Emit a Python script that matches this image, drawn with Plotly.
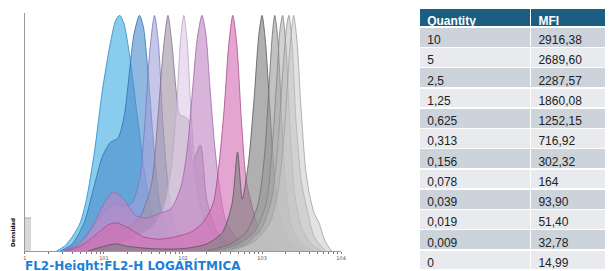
import numpy as np
import plotly.graph_objects as go

# ---------------- data ----------------
# Table
quantity = ["10", "5", "2,5", "1,25", "0,625", "0,313", "0,156", "0,078",
            "0,039", "0,019", "0,009", "0"]
mfi = ["2916,38", "2689,60", "2287,57", "1860,08", "1252,15", "716,92",
       "302,32", "164", "93,90", "51,40", "32,78", "14,99"]

# Histogram outlines: position in log10 decades of FL2-H, density (% of peak)
h0_dec = [0.40, 0.50, 0.60, 0.70, 0.78, 0.88, 0.98, 1.08, 1.15, 1.20, 1.25, 1.33, 1.42, 1.52, 1.62, 1.75, 1.95, 2.10]
h0_den = [0, 2, 6, 12, 22, 42, 68, 88, 98, 100, 97, 82, 58, 32, 14, 5, 1, 0]

h1_dec = [0.45, 0.60, 0.75, 0.88, 0.98, 1.08, 1.18, 1.26, 1.32, 1.38, 1.45, 1.50, 1.56, 1.63, 1.70, 1.80, 1.95, 2.10]
h1_den = [0, 3, 12, 28, 40, 46, 48, 58, 75, 92, 100, 95, 75, 45, 22, 8, 2, 0]

h2_dec = [0.50, 0.70, 0.90, 1.05, 1.15, 1.25, 1.35, 1.45, 1.52, 1.58, 1.64, 1.69, 1.75, 1.82, 1.90, 2.00, 2.15]
h2_den = [0, 4, 12, 18, 20, 19, 20, 30, 55, 85, 100, 88, 52, 25, 10, 4, 0]

h3_dec = [0.60, 0.80, 1.00, 1.15, 1.30, 1.45, 1.60, 1.68, 1.75, 1.81, 1.86, 1.92, 1.96, 2.06, 2.12, 2.22, 2.30, 2.42, 2.60, 2.80]
h3_den = [0, 3, 8, 10, 10, 14, 28, 55, 85, 100, 88, 66, 58, 56, 38, 45, 22, 9, 2, 0]

h4_dec = [1.00, 1.20, 1.40, 1.60, 1.75, 1.85, 1.92, 1.97, 2.01, 2.05, 2.10, 2.16, 2.25, 2.40, 2.60, 2.80]
h4_den = [0, 3, 6, 10, 18, 35, 62, 90, 100, 90, 60, 32, 15, 6, 2, 0]

h5_dec = [0.50, 0.70, 0.85, 1.00, 1.12, 1.25, 1.40, 1.55, 1.70, 1.85, 1.98, 2.06, 2.12, 2.18, 2.24, 2.29, 2.34, 2.40, 2.47, 2.55, 2.70, 2.90, 3.00]
h5_den = [0, 3, 10, 20, 25, 22, 15, 14, 16, 18, 28, 45, 68, 90, 100, 92, 70, 45, 25, 12, 5, 1, 0]

h6_dec = [0.50, 0.70, 0.90, 1.05, 1.15, 1.30, 1.50, 1.70, 1.90, 2.10, 2.25, 2.38, 2.45, 2.52, 2.58, 2.63, 2.68, 2.74, 2.80, 2.88, 2.95, 3.05, 3.20]
h6_den = [0, 2, 7, 11, 12, 10, 6, 5, 6, 8, 12, 20, 35, 60, 88, 100, 88, 55, 30, 18, 10, 4, 0]

h7_dec = [0.80, 1.00, 1.15, 1.30, 1.60, 2.00, 2.30, 2.50, 2.62, 2.69, 2.75, 2.83, 2.90, 2.96, 3.00, 3.04, 3.10, 3.16, 3.24, 3.35, 3.50]
h7_den = [0, 2, 3, 2, 1, 1, 3, 8, 20, 42, 22, 38, 65, 92, 100, 90, 60, 30, 12, 4, 0]

h8_dec = [2.30, 2.60, 2.80, 2.95, 3.03, 3.08, 3.13, 3.16, 3.20, 3.25, 3.30, 3.38, 3.50, 3.65]
h8_den = [0, 3, 8, 20, 40, 65, 92, 100, 90, 55, 28, 10, 3, 0]

h9_dec = [2.40, 2.70, 2.90, 3.05, 3.13, 3.19, 3.23, 3.26, 3.30, 3.35, 3.41, 3.50, 3.62, 3.75]
h9_den = [0, 3, 8, 20, 45, 75, 95, 100, 88, 55, 25, 10, 3, 0]

h10_dec = [2.50, 2.80, 3.00, 3.12, 3.20, 3.26, 3.31, 3.34, 3.38, 3.43, 3.50, 3.58, 3.66, 3.80]
h10_den = [0, 3, 10, 22, 45, 75, 95, 100, 88, 55, 29, 16, 6, 0]

h11_dec = [2.60, 2.90, 3.10, 3.20, 3.28, 3.34, 3.38, 3.40, 3.44, 3.49, 3.55, 3.60, 3.66, 3.72, 3.80, 3.88]
h11_den = [0, 4, 12, 25, 50, 80, 96, 100, 90, 62, 35, 24, 16, 12, 4, 0]

# Lowest bin (events piled on the axis minimum)
floor_x = [1.0, 1.2]
floor_den = [14, 14]

series_dec = [h0_dec, h1_dec, h2_dec, h3_dec, h4_dec, h5_dec, h6_dec, h7_dec, h8_dec, h9_dec, h10_dec, h11_dec]
series_den = [h0_den, h1_den, h2_den, h3_den, h4_den, h5_den, h6_den, h7_den, h8_den, h9_den, h10_den, h11_den]

# ---------------- styles ----------------
fills = [
    "rgba(64,172,226,0.62)", "rgba(78,140,205,0.62)", "rgba(160,160,216,0.60)",
    "rgba(160,148,166,0.62)", "rgba(222,202,230,0.62)", "rgba(192,132,196,0.62)",
    "rgba(212,112,180,0.62)", "rgba(128,128,128,0.62)", "rgba(150,150,150,0.58)",
    "rgba(172,172,172,0.55)", "rgba(188,188,188,0.55)", "rgba(202,202,202,0.55)",
]
lines = [
    "rgb(40,140,200)", "rgb(50,110,180)", "rgb(120,120,190)", "rgb(125,112,135)",
    "rgb(185,165,200)", "rgb(160,100,170)", "rgb(170,70,140)", "rgb(85,85,85)",
    "rgb(110,110,110)", "rgb(130,130,130)", "rgb(145,145,145)", "rgb(160,160,160)",
]

# The page body has an 8 px margin, so the figure is 8 px smaller and positions are shifted by 8.
OFF = 8
W, H = 613 - OFF, 271 - OFF


def px(xp):
    return (xp - OFF) / W


def py(yp):
    return 1 - (yp - OFF) / H


fig = go.Figure()

fig.add_trace(go.Scatter(
    x=floor_x, y=floor_den, mode="lines", line=dict(color="rgb(150,150,150)", width=0.8, shape="hv"),
    fill="tozeroy", fillcolor="rgba(200,200,200,0.7)", hoverinfo="skip", showlegend=False))

for dec, den, fc, lc in zip(series_dec, series_den, fills, lines):
    fig.add_trace(go.Scatter(
        x=10 ** np.array(dec), y=den, mode="lines",
        line=dict(color=lc, width=0.8, shape="spline", smoothing=0.7),
        fill="tozeroy", fillcolor=fc, hoverinfo="skip", showlegend=False))

# tick values on log axis
tickvals = []
ticktext = []
for d in range(4):
    for m in range(1, 10):
        tickvals.append(m * 10 ** d)
        if m == 1:
            ticktext.append("1" if d == 0 else f"10{d}")
        else:
            ticktext.append("")
tickvals.append(10 ** 4)
ticktext.append("104")

fig.update_layout(
    width=W, height=H, margin=dict(l=0, r=0, t=0, b=0),
    paper_bgcolor="white", plot_bgcolor="white",
    xaxis=dict(type="log", range=[0, 4], domain=[px(23), px(343)],
               showline=True, linecolor="#9a9a9a", linewidth=1,
               showgrid=False, zeroline=False, ticks="outside", ticklen=1.5,
               tickcolor="#777", tickwidth=0.8, ticklabelstandoff=0,
               tickvals=tickvals, ticktext=ticktext,
               tickfont=dict(size=5, color="#555", family="DejaVu Sans")),
    yaxis=dict(range=[0, 101], domain=[py(251), py(13)],
               showline=True, linecolor="#9a9a9a", linewidth=1,
               showgrid=False, zeroline=False, showticklabels=False, ticks=""),
)

fig.add_annotation(xref="paper", yref="paper", x=px(21), y=py(265.5),
                   xanchor="left", yanchor="middle", showarrow=False,
                   text="<b>FL2-Height:FL2-H LOGARÍTMICA</b>",
                   font=dict(family="DejaVu Sans", size=12, color="#1C7FD9"))
fig.add_annotation(xref="paper", yref="paper", x=px(11), y=py(232),
                   xanchor="center", yanchor="middle", showarrow=False, textangle=-90,
                   text="<b>Densidad</b>",
                   font=dict(family="DejaVu Sans", size=5.5, color="#111"))

row_fill = ["#CDD3DB" if i % 2 == 0 else "#E8EAEE" for i in range(len(quantity))]
fig.add_trace(go.Table(
    domain=dict(x=[px(422), 1.0], y=[0, 1.0]),
    columnwidth=[113, 78],
    header=dict(values=["Quantity", "MFI"],
                fill_color="#1B5E82", line=dict(color="white", width=1.5),
                font=dict(family="Liberation Sans", size=12, color="white", weight="bold"),
                align="left", height=19),
    cells=dict(values=[quantity, mfi],
               fill_color=[row_fill, row_fill], line=dict(color="white", width=1.5),
               font=dict(family="Liberation Sans", size=12, color="#222"),
               align="left", height=20.25),
))

fig.write_html("out.html")
